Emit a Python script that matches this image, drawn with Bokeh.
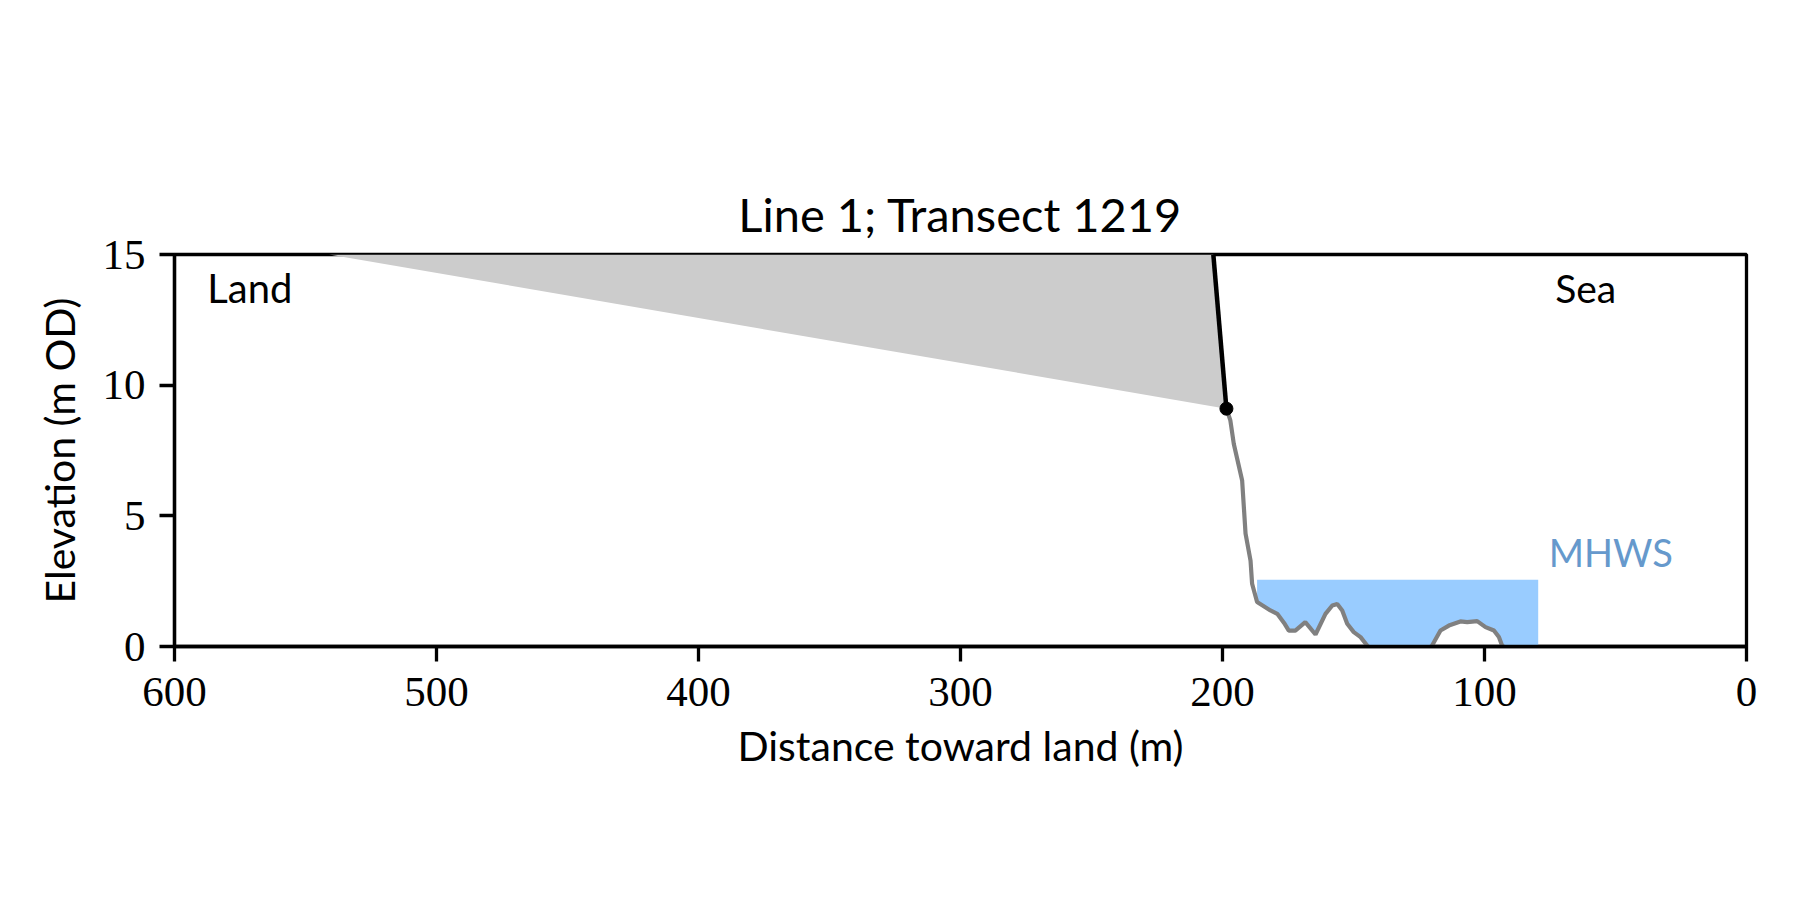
from bokeh.plotting import figure
from bokeh.models import Range1d, FixedTicker
from bokeh.core.properties import value
from bokeh.embed import file_html
from bokeh.resources import INLINE

# ---- data ----
title_text = "Line 1; Transect 1219"
x_ticks = [600, 500, 400, 300, 200, 100, 0]
y_ticks = [0, 5, 10, 15]

profile_x = [198.5, 197.0, 195.7, 192.5, 191.2, 189.3, 188.7, 186.8, 181.7, 179.1, 176.5,
             174.7, 172.2, 168.4, 164.5, 160.7, 158.1, 156.2, 154.3, 152.4, 149.9, 147.3,
             144.8, 140.0, 132.0, 125.0, 120.0, 116.8, 113.6, 109.2, 106.6, 102.8, 99.6,
             96.4, 94.5, 93.3, 88.0, 84.0, 79.5]
profile_y = [9.10, 8.65, 7.76, 6.35, 4.32, 3.29, 2.40, 1.70, 1.38, 1.25, 0.90,
             0.61, 0.61, 0.93, 0.46, 1.25, 1.57, 1.63, 1.38, 0.87, 0.55, 0.36,
             0.04, -0.40, -0.60, -0.40, 0.04, 0.61, 0.80, 0.96, 0.93, 0.97, 0.74,
             0.61, 0.36, 0.04, -0.40, -0.60, -0.70]

mhws = 2.55
cliff_top_x = [198.5, 203.5]
cliff_top_y = [9.10, 15.0]
slope_x = [198.5, 541.0]
slope_y = [9.10, 15.0]

land_pos = (587.5, 13.15)
sea_pos = (73.0, 13.15)

# ---- figure ----
W, H = 1784, 884
p = figure(width=W, height=H, output_backend="svg", toolbar_location=None,
           x_range=Range1d(600, 0), y_range=Range1d(0, 15),
           min_border_left=174, min_border_right=W - 1746,
           min_border_top=254, min_border_bottom=H - 646,
           background_fill_color="white", border_fill_color="white")

p.grid.visible = False
p.outline_line_color = "black"
p.outline_line_width = 3.3

# gray wedge
poly_x = [slope_x[0], cliff_top_x[1], slope_x[1]]
poly_y = [slope_y[0], cliff_top_y[1], slope_y[1]]
p.patch(poly_x, poly_y, fill_color="#cccccc", line_color=None)

# MHWS fill
fx = [x for x in profile_x if x <= 187.0]
fy = [y for x, y in zip(profile_x, profile_y) if x <= 187.0]
p.varea(x=fx, y1=fy, y2=[mhws] * len(fx), fill_color="#99ccff")

# profile line
p.line(profile_x, profile_y, line_color="#808080", line_width=4.2)

# cliff line and point
p.line(cliff_top_x, cliff_top_y, line_color="black", line_width=4.5)
p.scatter([profile_x[0]], [profile_y[0]], size=13, color="black")

# annotations
sans = "Lato"
p.text([land_pos[0]], [land_pos[1]], text=["Land"], text_font=value(sans),
       text_font_size="40px", text_baseline="alphabetic", text_align="left",
       text_color="black", y_offset=-15)
p.text([sea_pos[0]], [sea_pos[1]], text=["Sea"], text_font=value(sans),
       text_font_size="39px", text_baseline="alphabetic", text_align="left",
       text_color="black", y_offset=-15)
p.text([fx[-1] - 4.0], [mhws + 0.5], text=["MHWS"], text_font=value(sans),
       text_font_size="38px", text_baseline="alphabetic", text_align="left",
       text_color="#6699cc", y_offset=-15)

# title
p.title.text = title_text
p.title.text_font = sans
p.title.text_font_size = "47px"
p.title.text_font_style = "normal"
p.title.text_color = "black"
p.title.align = "center"
p.title.standoff = 25

# axes
for ax in (p.xaxis[0], p.yaxis[0]):
    ax.axis_line_width = 3.3
    ax.axis_line_color = "black"
    ax.major_tick_line_width = 3.3
    ax.major_tick_out = 15
    ax.major_tick_in = 0
    ax.minor_tick_line_color = None
    ax.major_label_text_font = "Liberation Serif"
    ax.major_label_text_font_size = "43px"
    ax.major_label_text_color = "black"
    ax.axis_label_text_font = sans
    ax.axis_label_text_font_size = "41px"
    ax.axis_label_text_font_style = "normal"
    ax.axis_label_text_color = "black"

p.xaxis[0].ticker = FixedTicker(ticks=x_ticks)
p.yaxis[0].ticker = FixedTicker(ticks=y_ticks)
p.xaxis[0].axis_label = "Distance toward land (m)"
p.yaxis[0].axis_label = "Elevation (m OD)"
p.xaxis[0].major_label_standoff = 16
p.yaxis[0].major_label_standoff = 14
p.xaxis[0].axis_label_standoff = 12
p.yaxis[0].axis_label_standoff = 16

open("out.html", "w").write(file_html(p, INLINE))
